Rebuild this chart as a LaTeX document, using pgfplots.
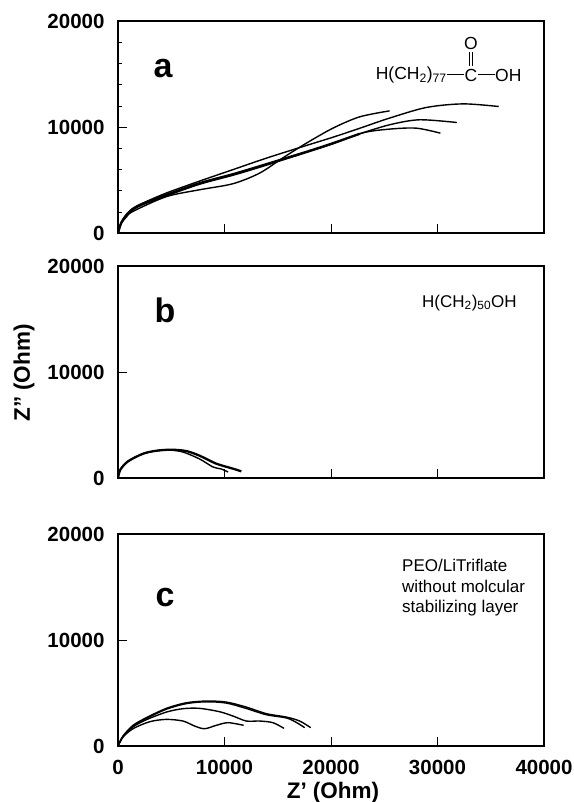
\documentclass[border=0pt]{standalone}
\usepackage{pgfplots}
\pgfplotsset{compat=1.18}
\usepackage{fontspec}
\setmainfont{Liberation Sans}
\pgfplotsset{
  panel/.style={
    scale only axis, width=426pt, height=212pt,
    xmin=0, xmax=40000, ymin=0, ymax=20000,
    xtick={0,10000,20000,30000,40000},
    ytick={0,10000,20000},
    tick align=inside,
    major tick length=9pt, minor tick length=4pt,
    xtick pos=bottom, ytick pos=left,
    scaled ticks=false,
    tick style={black,line width=0.5pt},
    axis line style={line width=1.3pt},
    /pgf/number format/assume math mode=true,
    /pgf/number format/1000 sep={},
    tick label style={font=\fontsize{20.5}{24}\selectfont\bfseries},
    xticklabel style={yshift=-11pt},
    yticklabel style={xshift=-10pt},
  },
  cv/.style={black,line width=1.4pt,smooth,tension=0.5,no markers},
  cvt/.style={black,line width=2.3pt,smooth,tension=0.5,no markers},
}
\begin{document}
\begin{tikzpicture}[x=1pt,y=1pt]
\path[use as bounding box] (0,0) rectangle (573,802);
% panel a
\begin{axis}[panel,minor y tick num=4,at={(118pt,569pt)},anchor=south west,xticklabels={}]
\addplot[cv] coordinates {(0,0)(300,900)(780,1500)(1410,2040)(4540,3430)(7670,4080)(10800,4650)(13300,5650)(15500,7100)(17700,8480)(20200,9900)(22700,10960)(25500,11520)};
\addplot[cv] coordinates {(0,0)(300,1000)(780,1750)(1410,2350)(2350,2830)(4540,3770)(7670,4900)(10800,5980)(13930,7060)(17700,8260)(20200,9040)(22700,9880)(25500,10840)(28950,11840)(32400,12180)(35750,11930)};
\addplot[cvt] coordinates {(0,0)(300,950)(780,1650)(1410,2250)(2350,2750)(4540,3600)(7670,4700)(10800,5550)(13300,6300)(17700,7660)(20200,8480)(22700,9360)};
\addplot[cv] coordinates {(22700,9360)(25500,10210)(28300,10680)(31830,10420)};
\addplot[cv] coordinates {(0,0)(300,930)(780,1600)(1410,2200)(2350,2680)(4540,3500)(7670,4600)(10800,5450)(13300,6200)(17700,7600)(20200,8420)(23000,9450)(25500,9800)(28000,9890)(30270,9420)};
\end{axis}
% panel b
\begin{axis}[panel,at={(118pt,324pt)},anchor=south west,xticklabels={}]
\addplot[cvt] coordinates {(0,0)(220,785)(940,1570)(2350,2290)(3600,2570)(5000,2670)(6420,2540)(7670,2100)(9230,1350)(10800,880)(11580,630)};
\addplot[cv] coordinates {(0,0)(220,785)(940,1570)(2350,2290)(3600,2570)(4800,2640)(6100,2450)(7670,1790)(8920,1036)(9700,850)(10330,565)};
\end{axis}
% panel c
\begin{axis}[panel,at={(118pt,56pt)},anchor=south west]
\addplot[cv] coordinates {(0,0)(470,940)(1410,1950)(2660,2670)(4540,3550)(6420,4080)(8300,4240)(10170,4145)(12050,3670)(13930,3050)(15800,2730)(17060,2355)(18090,1730)};
\addplot[cv] coordinates {(0,0)(470,900)(1410,1880)(2660,2600)(4540,3470)(6420,4000)(8300,4170)(10170,4050)(12050,3540)(13930,2950)(15800,2650)(16700,2250)(17530,1730)};
\addplot[cv] coordinates {(0,0)(470,860)(1410,1800)(2660,2480)(4540,3200)(6100,3520)(7670,3550)(9550,3230)(10800,2825)(12050,2355)(13300,2355)(14550,2200)(15590,1660)};
\addplot[cv] coordinates {(0,0)(470,850)(1410,1630)(2970,2290)(4540,2510)(6100,2355)(7200,1880)(8140,1630)(9230,1950)(10330,2200)(11800,1950)};
\end{axis}
% axis titles
\node[font=\fontsize{22.5}{26}\selectfont\bfseries,rotate=90] at (24,429) {Z'' (Ohm)};
\node[font=\fontsize{22.5}{26}\selectfont\bfseries] at (333,9) {Z' (Ohm)};
% panel letters
\node[font=\fontsize{34}{36}\selectfont\bfseries] at (163,733) {a};
\node[font=\fontsize{34}{36}\selectfont\bfseries] at (165,492) {b};
\node[font=\fontsize{34}{36}\selectfont\bfseries] at (165,204) {c};
% annotations
\node[font=\fontsize{17.5}{20}\selectfont,anchor=east,inner sep=0pt] at (447,727) {H(CH$_{\mathrm{2}}$)$_{\mathrm{77}}$};
\node[font=\fontsize{17.5}{20}\selectfont,inner sep=0pt] (C) at (471,727) {C};
\node[font=\fontsize{17.5}{20}\selectfont,inner sep=0pt] at (471,759) {O};
\node[font=\fontsize{17.5}{20}\selectfont,anchor=west,inner sep=0pt] at (495,727) {OH};
\draw[line width=0.7pt] (447,728)--(464,728) (478,728)--(495,728);
\draw[line width=0.7pt] (469.5,736)--(469.5,750) (472.5,736)--(472.5,750);
\node[font=\fontsize{17}{20}\selectfont,anchor=west,inner sep=0pt] at (422,499) {H(CH$_{\mathrm{2}}$)$_{\mathrm{50}}$OH};
\node[font=\fontsize{17}{20.5}\selectfont,anchor=north west,align=left,inner sep=0pt] at (402,243) {PEO/LiTriflate\\without molcular\\stabilizing layer};
\end{tikzpicture}
\end{document}
